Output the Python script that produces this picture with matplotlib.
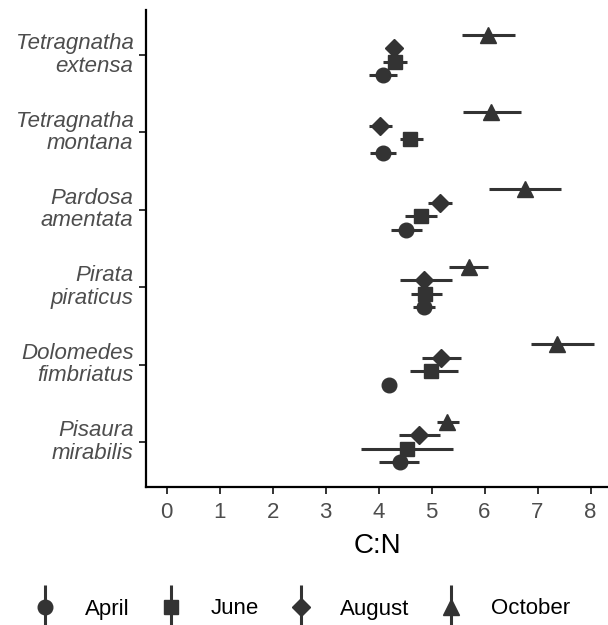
import matplotlib
matplotlib.use("Agg")
import matplotlib.pyplot as plt
from matplotlib.lines import Line2D
from matplotlib.legend_handler import HandlerTuple
import numpy as np

plt.rcParams['font.family'] = ['Liberation Sans', 'DejaVu Sans']

species = ["Pisaura\nmirabilis", "Dolomedes\nfimbriatus", "Pirata\npiraticus",
           "Pardosa\namentata", "Tetragnatha\nmontana", "Tetragnatha\nextensa"]
months = ["April", "June", "August", "October"]

# C:N means (order follows species list, bottom to top)
april_mean = [4.40, 4.20, 4.86, 4.51, 4.09, 4.08]
april_lo = [4.01, 4.20, 4.65, 4.23, 3.84, 3.81]
april_hi = [4.77, 4.20, 5.07, 4.82, 4.33, 4.35]

june_mean = [4.53, 4.99, 4.88, 4.80, 4.60, 4.31]
june_lo = [3.67, 4.60, 4.62, 4.50, 4.40, 4.08]
june_hi = [5.40, 5.49, 5.20, 5.10, 4.84, 4.54]

august_mean = [4.77, 5.17, 4.85, 5.16, 4.02, 4.29]
august_lo = [4.38, 4.82, 4.40, 4.94, 3.81, 4.20]
august_hi = [5.16, 5.56, 5.38, 5.38, 4.26, 4.38]

october_mean = [5.29, 7.36, 5.70, 6.76, 6.13, 6.06]
october_lo = [5.10, 6.87, 5.33, 6.09, 5.60, 5.57]
october_hi = [5.51, 8.06, 6.07, 7.45, 6.68, 6.57]

series = {
    "April": (april_mean, april_lo, april_hi),
    "June": (june_mean, june_lo, june_hi),
    "August": (august_mean, august_lo, august_hi),
    "October": (october_mean, october_lo, october_hi),
}
markers = {"April": "o", "June": "s", "August": "D", "October": "^"}
msizes = {"April": 10.5, "June": 9.5, "August": 9.0, "October": 11.5}
offsets = {"April": -0.2625, "June": -0.0875, "August": 0.0875, "October": 0.2625}
col = "#333333"

fig = plt.figure(figsize=(6.08, 6.25), dpi=100)
ax = fig.add_axes([146/608, 1 - 487.3/625, 1 - 146/608, (487.3 - 10)/625])

ypos = np.arange(1, len(species) + 1)
for m in months:
    mean, lo, hi = (np.array(a) for a in series[m])
    y = ypos + offsets[m]
    ax.hlines(y, lo, hi, color=col, lw=2.2, zorder=2)
    ax.plot(mean, y, linestyle="None", marker=markers[m], ms=msizes[m],
            color=col, mec=col, zorder=3)

ax.set_xlim(-0.39, 8.33)
ax.set_ylim(0.414, 6.58)
ax.set_xticks(range(0, 9))
ax.set_yticks(ypos)
ax.set_yticklabels(species, fontstyle="italic", ha="right", linespacing=1.08)
for lbl in ax.get_yticklabels():
    lbl.set_va("center")
for s in ["top", "right"]:
    ax.spines[s].set_visible(False)
for s in ["left", "bottom"]:
    ax.spines[s].set_linewidth(1.6)
    ax.spines[s].set_color("black")
ax.tick_params(axis="both", length=5, width=1.4, color="#333333",
               labelsize=16, labelcolor="#4D4D4D")
ax.tick_params(axis="x", pad=5.5)
ax.tick_params(axis="y", pad=4)
ax.set_xlabel("C:N", fontsize=20, color="black", labelpad=7)

handles = []
for m in months:
    vline = Line2D([], [], marker="|", ms=31, mew=2.2, color=col, linestyle="None")
    mk = Line2D([], [], marker=markers[m], ms=msizes[m], color=col, linestyle="None")
    handles.append((vline, mk))
fig.legend(handles, months, handler_map={tuple: HandlerTuple(ndivide=1)},
           loc="center", bbox_to_anchor=(302/608, 1 - 609/625), ncol=4, frameon=False,
           fontsize=16, handlelength=1.0, handletextpad=1.28, columnspacing=1.38,
           labelcolor="black", borderpad=0.1)

fig.savefig("out.png", dpi=100)
